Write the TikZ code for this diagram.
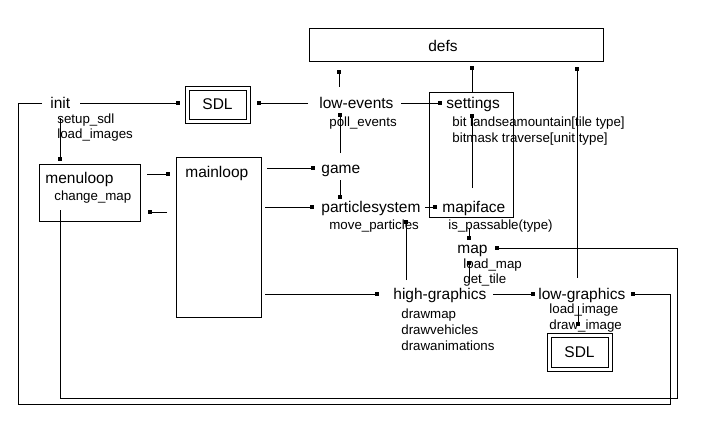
\documentclass[tikz,border=0pt]{standalone}
\usepackage{fontspec}
\setmainfont{Liberation Sans}
\begin{document}
\begin{tikzpicture}[x=1pt,y=-1pt,line width=0.8pt,
  lbl/.style={anchor=mid west,inner sep=0pt,yshift=-2.5pt,font=\fontsize{15.5}{18}\selectfont},
  sub/.style={anchor=mid west,inner sep=0pt,yshift=-2.5pt,font=\fontsize{13.3}{16}\selectfont},
  sq/.style={fill=black,draw=none,minimum size=4pt,inner sep=0pt,rectangle},
  boxx/.style={draw,inner sep=0pt},
  sdlout/.style={draw,minimum width=65pt,minimum height=37pt,inner sep=0pt},
  sdlin/.style={draw,minimum width=57pt,minimum height=29pt,inner sep=0pt,font=\fontsize{15.5}{18}\selectfont}
]
\useasboundingbox[fill=white] (0,0) rectangle (703,444);

% boxes
\node[boxx,minimum width=294pt,minimum height=33pt] (defs) at (456,44.5) {};
\node[anchor=center,inner sep=0pt,yshift=-1pt,font=\fontsize{15.5}{18}\selectfont] (defsT) at (443,45) {defs};
\node[boxx,minimum width=84pt,minimum height=125pt] (setbox) at (471,154.5) {};
\node[boxx,minimum width=101pt,minimum height=57pt] (menubox) at (89.5,192.5) {};
\node[boxx,minimum width=85pt,minimum height=160pt] (mainbox) at (218.5,237) {};
\node[sdlout] (sdlAo) at (217.5,104.5) {};
\node[sdlin] (sdlA) at (217.5,104.5) {SDL};
\node[sdlout,minimum height=38pt] (sdlBo) at (579.5,352) {};
\node[sdlin,minimum height=30pt] (sdlB) at (579.5,352) {SDL};

% labels
\node[lbl] (init) at (50,103) {init};
\node[sub] (setup) at (57,118) {setup\_sdl};
\node[sub] (loadimg) at (57,133) {load\_images};
\node[lbl] (lowev) at (319,103) {low-events};
\node[sub] (poll) at (329,121) {poll\_events};
\node[lbl] (settings) at (446,103) {settings};
\node[sub] (bitl) at (452,121) {bit landseamountain[tile type]};
\node[sub] (bitm) at (452,137) {bitmask traverse[unit type]};
\node[lbl] (game) at (321,168) {game};
\node[lbl] (psys) at (321,207) {particlesystem};
\node[sub] (movep) at (329,224) {move\_particles};
\node[lbl] (mapiface) at (442,207) {mapiface};
\node[sub] (ispass) at (448,224) {is\_passable(type)};
\node[lbl] (map) at (457,248) {map};
\node[sub] (loadmap) at (463,263) {load\_map};
\node[sub] (gettile) at (463,278) {get\_tile};
\node[lbl] (mainloop) at (185,172) {mainloop};
\node[lbl] (menuloop) at (45,178) {menuloop};
\node[sub] (changemap) at (54,195) {change\_map};
\node[lbl] (highg) at (393,294) {high-graphics};
\node[sub] (drawmap) at (401,313) {drawmap};
\node[sub] (drawveh) at (401,329) {drawvehicles};
\node[sub] (drawanim) at (401,345) {drawanimations};
\node[lbl] (lowg) at (538,294) {low-graphics};
\node[sub] (loadimage) at (549,308) {load\_image};
\node[sub] (drawimage) at (549,324) {draw\_image};

% squares
\node[sq] (sqA) at (339,72) {};
\node[sq] (sqB) at (472,68) {};
\node[sq] (sqC) at (577,69) {};
\node[sq] (sqSDL1) at (178,103) {};
\node[sq] (sqSDL1b) at (259,103) {};
\node[sq] (sqSet) at (440,103) {};
\node[sq] (sqLE) at (340,115) {};
\node[sq] (sqGame) at (313,168) {};
\node[sq] (sqPS) at (340,197) {};
\node[sq] (sqPS2) at (312,207) {};
\node[sq] (sqMF) at (435,207) {};
\node[sq] (sqSet2) at (472,116) {};
\node[sq] (sqMap1) at (469,238) {};
\node[sq] (sqMap2) at (497,248) {};
\node[sq] (sqMap3) at (469,263) {};
\node[sq] (sqPS3) at (406,222) {};
\node[sq] (sqHG) at (377,294) {};
\node[sq] (sqLG) at (533,294) {};
\node[sq] (sqLG2) at (633,294) {};
\node[sq] (sqSDL2) at (578,324) {};
\node[sq] (sqMain) at (168,174) {};
\node[sq] (sqMenu) at (150,212) {};
\node[sq] (sqMenu2) at (60,159) {};

% free ends
\coordinate (defsAe) at (339,87);
\coordinate (defsCe) at (577,278);
\coordinate (initR) at (80,103);
\coordinate (lowevL) at (308,103);
\coordinate (lowevR) at (401,103);
\coordinate (gameTop) at (340,153);
\coordinate (gameL) at (267,168);
\coordinate (gameBot) at (340,180);
\coordinate (psysL) at (265,207);
\coordinate (psysR) at (425,207);
\coordinate (mfUp) at (472,188);
\coordinate (mfDown) at (469,228);
\coordinate (menuSrc) at (60,210);
\coordinate (c1) at (677,398);
\coordinate (hgTop) at (469,282);
\coordinate (hgTop2) at (406,280);
\coordinate (hgL) at (265,294);
\coordinate (hgR) at (493,294);
\coordinate (initL) at (42,103);
\coordinate (k1) at (670,404);
\coordinate (k2) at (18,103);
\coordinate (lgDown) at (578,306);
\coordinate (menuR1) at (147,174);
\coordinate (mainL2) at (167,212);
\coordinate (initDown) at (60,118);

% connectors
\draw (sqA.center) -- (defsAe);
\draw (sqB.center) -- (sqB |- setbox.north);
\draw (sqC.center) -- (defsCe);
\draw (initR) -- (sqSDL1.center);
\draw (lowevL) -- (sqSDL1b.center);
\draw (lowevR) -- (sqSet.center);
\draw (gameTop) -- (sqLE.center);
\draw (gameL) -- (sqGame.center);
\draw (gameBot) -- (sqPS.center);
\draw (psysL) -- (sqPS2.center);
\draw (psysR) -- (sqMF.center);
\draw (mfUp) -- (sqSet2.center);
\draw (mfDown) -- (sqMap1.center);
\draw (menuSrc) |- (c1) |- (sqMap2.center);
\draw (hgTop) -- (sqMap3.center);
\draw (hgTop2) -- (sqPS3.center);
\draw (hgL) -- (sqHG.center);
\draw (hgR) -- (sqLG.center);
\draw (initL) -- (k2) |- (k1) |- (sqLG2.center);
\draw (lgDown) -- (sqSDL2.center);
\draw (menuR1) -- (sqMain.center);
\draw (mainL2) -- (sqMenu.center);
\draw (initDown) -- (sqMenu2.center);
\end{tikzpicture}
\end{document}
